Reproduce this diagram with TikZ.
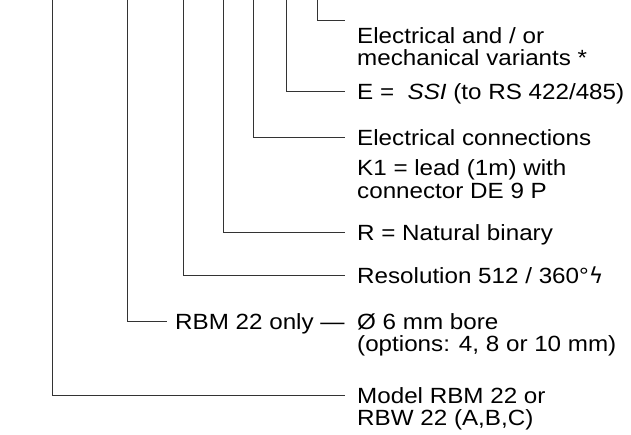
\documentclass[tikz,border=0pt]{standalone}
\usepackage{fontspec}
\setmainfont{Liberation Sans}[FakeStretch=1.1]
\newfontfamily\symfont{DejaVu Sans}
\usepackage{tikz}
\usetikzlibrary{positioning,calc}

\begin{document}
\begin{tikzpicture}[
            x=1pt, y=-1pt,
            every node/.style={font=\fontsize{22pt}{22.5pt}\selectfont},
            lbl/.style={anchor=base west, inner sep=0pt, text height=16pt, text depth=0pt},
            lead/.style={draw=black!80, line width=1pt},
        ]
            \useasboundingbox (0,0) rectangle (631,434);

            % tops of the leads
            \coordinate (tvar) at (317,0);
            \coordinate (tssi) at (286,0);
            \coordinate (tconn) at (253,0);
            \coordinate (tcode) at (223,0);
            \coordinate (tres) at (183,0);
            \coordinate (tbore) at (127,0);
            \coordinate (tmodel) at (52,0);

            \node[lbl] (var) at (357,43) {Electrical and / or};
            \node[lbl] (var2) at (357,65) {mechanical variants *};
            \node[lbl] (ssi) at (357,99) {E =\ \ \textit{SSI} (to RS 422/485)};
            \node[lbl] (conn) at (357,145) {Electrical connections};
            \node[lbl] (conn2) at (357,175) {K1 = lead (1m) with};
            \node[lbl] (conn3) at (357,198) {connector DE 9 P};
            \node[lbl] (code) at (357,240) {R = Natural binary};
            \node[lbl] (res) at (357,283) {Resolution 512 / 360°{\symfont ϟ}};
            \node[lbl] (rbm) at (175,329) {RBM 22 only —};
            \node[lbl] (bore) at (357,329) {Ø 6 mm bore};
            \node[lbl] (bore2) at (357,351) {(options: 4, 8 or 10 mm)};
            \node[lbl] (model) at (357,403) {Model RBM 22 or};
            \node[lbl] (model2) at (357,425) {RBW 22 (A,B,C)};

            \draw[lead] (tvar) |- ([xshift=-12pt,yshift=6pt]var.north west);
            \draw[lead] (tssi) |- ([xshift=-12pt]ssi.west);
            \draw[lead] (tconn) |- ([xshift=-12pt]conn.west);
            \draw[lead] (tcode) |- ([xshift=-12pt]code.west);
            \draw[lead] (tres) |- ([xshift=-12pt]res.west);
            \draw[lead] (tbore) |- ([xshift=-8pt]rbm.west);
            \draw[lead] (tmodel) |- ([xshift=-12pt]model.west);
        \end{tikzpicture}
\end{document}
